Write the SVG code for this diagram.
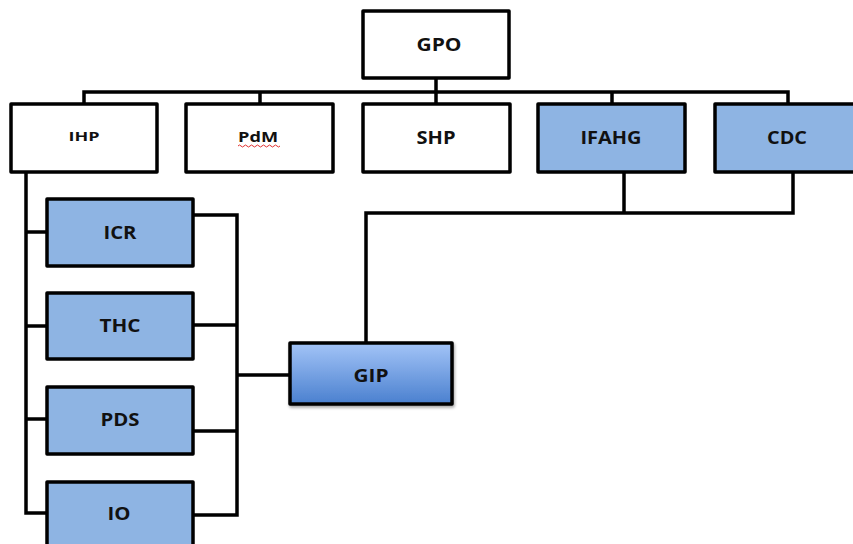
<svg xmlns="http://www.w3.org/2000/svg" width="853" height="544" viewBox="0 0 853 544">
<defs>
<linearGradient id="gipGrad" x1="0" y1="0" x2="0" y2="1">
<stop offset="0" stop-color="#a3c4f7"/>
<stop offset="1" stop-color="#4a80cf"/>
</linearGradient>
<filter id="shadow" x="-10%" y="-10%" width="130%" height="140%">
<feDropShadow dx="1" dy="2" stdDeviation="1.5" flood-color="#000" flood-opacity="0.35"/>
</filter>
</defs>
<style>
.box{stroke:#000;stroke-width:3.5;stroke-linejoin:round}
.white{fill:#fff}
.blue{fill:#8eb4e3}
.lbl{font-family:"Open Sans","Liberation Sans",sans-serif;font-weight:bold;fill:#111;text-anchor:middle;dominant-baseline:central}
.conn{fill:none;stroke:#000;stroke-width:3.5;stroke-linejoin:miter}
</style>
<rect width="853" height="544" fill="#fff"/>
<g id="connectors">
<path class="conn" d="M436 78V104M84 104V92H788V104M260 92V104M612 92V104"/>
<path class="conn" d="M624 172V213M793 172V213H366V343M366 213H624"/>
<path class="conn" d="M26 172V513H47M26 232H47M26 326H47M26 419H47"/>
<path class="conn" d="M193 215H237V515H193M193 325H237M193 431H237M237 375H290"/>
</g>
<g id="GPO"><rect class="box white" x="363" y="11" width="146" height="67"/><text class="lbl" x="439" y="44" font-size="18" textLength="45" lengthAdjust="spacingAndGlyphs">GPO</text></g>
<g id="IHP"><rect class="box white" x="11" y="104" width="146" height="68"/><text class="lbl" x="84" y="136" font-size="13" textLength="31" lengthAdjust="spacingAndGlyphs">IHP</text></g>
<g id="PdM"><rect class="box white" x="186" y="104" width="147" height="68"/><text class="lbl" x="258" y="136" font-size="15" textLength="40" lengthAdjust="spacingAndGlyphs">PdM</text><path d="M238 146q1.5-2 3 0t3 0t3 0t3 0t3 0t3 0t3 0t3 0t3 0t3 0t3 0t3 0t3 0t3 0" fill="none" stroke="#e03030" stroke-width="1"/></g>
<g id="SHP"><rect class="box white" x="363" y="104" width="147" height="68"/><text class="lbl" x="436" y="137" font-size="18" textLength="39" lengthAdjust="spacingAndGlyphs">SHP</text></g>
<g id="IFAHG"><rect class="box blue" x="538" y="104" width="147" height="68"/><text class="lbl" x="611" y="137" font-size="18" textLength="61" lengthAdjust="spacingAndGlyphs">IFAHG</text></g>
<g id="CDC"><rect class="box blue" x="715" y="104" width="147" height="68"/><text class="lbl" x="787" y="137" font-size="18" textLength="40" lengthAdjust="spacingAndGlyphs">CDC</text></g>
<g id="ICR"><rect class="box blue" x="47" y="199" width="146" height="67"/><text class="lbl" x="120" y="232" font-size="18" textLength="33" lengthAdjust="spacingAndGlyphs">ICR</text></g>
<g id="THC"><rect class="box blue" x="47" y="293" width="146" height="66"/><text class="lbl" x="120" y="325" font-size="18" textLength="41" lengthAdjust="spacingAndGlyphs">THC</text></g>
<g id="PDS"><rect class="box blue" x="47" y="387" width="146" height="67"/><text class="lbl" x="120" y="419" font-size="18" textLength="39" lengthAdjust="spacingAndGlyphs">PDS</text></g>
<g id="IO"><rect class="box blue" x="47" y="482" width="146" height="70"/><text class="lbl" x="119" y="513" font-size="18" textLength="23" lengthAdjust="spacingAndGlyphs">IO</text></g>
<g id="GIP"><rect class="box" fill="url(#gipGrad)" filter="url(#shadow)" x="290" y="343" width="162" height="61"/><text class="lbl" x="371" y="375" font-size="18" textLength="35" lengthAdjust="spacingAndGlyphs">GIP</text></g>
</svg>
